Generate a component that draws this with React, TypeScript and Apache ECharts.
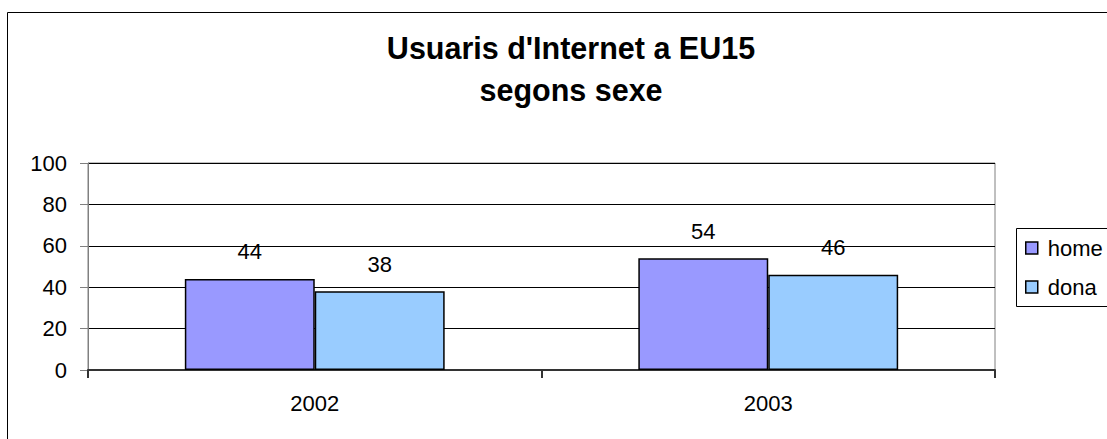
import React, { useEffect, useRef } from "react";
import * as echarts from "echarts";

const categories = ["2002", "2003"];
const homeValues = [44, 54];
const donaValues = [38, 46];
const seriesNames = ["home", "dona"];
const yTicks = { min: 0, max: 100, interval: 20 };

const FONT = "'Liberation Sans', Arial, sans-serif";

export default function App() {
  const ref = useRef<HTMLDivElement>(null);
  useEffect(() => {
    if (!ref.current) return;
    const chart = echarts.init(ref.current, undefined, { renderer: "svg" });
    const labelCfg = {
      show: true,
      position: "top",
      distance: 16,
      color: "#000",
      fontSize: 22,
      fontFamily: FONT,
    };
    chart.setOption({
      animation: false,
      backgroundColor: "#fff",
      textStyle: { fontFamily: FONT },
      graphic: [
        {
          type: "rect",
          shape: { x: 7.5, y: 12.5, width: 1200, height: 600 },
          style: { fill: "none", stroke: "#000", lineWidth: 1 },
          silent: true,
          z: -1,
        },
        {
          type: "polyline",
          shape: {
            points: [
              [1120, 228.5],
              [1016.5, 228.5],
              [1016.5, 306.5],
              [1120, 306.5],
            ],
          },
          style: { fill: "none", stroke: "#000", lineWidth: 1 },
          silent: true,
          z: 0,
        },
      ],
      title: {
        text: "Usuaris d'Internet a EU15\nsegons sexe",
        left: 571,
        top: 27,
        padding: 0,
        textAlign: "center",
        textStyle: {
          fontFamily: FONT,
          fontWeight: "bold",
          fontSize: 30.5,
          lineHeight: 42,
          color: "#000",
        },
      },
      legend: {
        orient: "vertical",
        left: 1016,
        top: 228,
        padding: [9, 0, 8, 9],
        itemGap: 17,
        itemWidth: 12,
        itemHeight: 12,
        icon: "rect",
        borderWidth: 0,
        z: 5,
        itemStyle: { borderColor: "#000", borderWidth: 1.5 },
        textStyle: {
          fontFamily: FONT,
          fontSize: 22,
          color: "#000",
          padding: [0, 0, 0, 5],
        },
        data: seriesNames,
      },
      grid: {
        left: 88,
        top: 163,
        right: 112,
        bottom: 69,
        show: true,
        borderColor: "#808080",
        borderWidth: 1,
        backgroundColor: "transparent",
      },
      xAxis: {
        type: "category",
        data: categories,
        axisLine: { show: true, lineStyle: { color: "#333", width: 2 } },
        axisTick: { show: true, length: 8, lineStyle: { color: "#333", width: 2 } },
        axisLabel: { margin: 22, fontSize: 22, color: "#000", fontFamily: FONT },
      },
      yAxis: {
        type: "value",
        min: yTicks.min,
        max: yTicks.max,
        interval: yTicks.interval,
        axisLine: { show: true, lineStyle: { color: "#808080", width: 1 } },
        axisTick: { show: true, length: 8, lineStyle: { color: "#808080" } },
        axisLabel: { margin: 21, fontSize: 22, color: "#000", fontFamily: FONT },
        splitLine: { show: true, lineStyle: { color: "#000", width: 1 } },
      },
      series: [
        {
          name: seriesNames[0],
          type: "bar",
          data: homeValues,
          barGap: "0%",
          barCategoryGap: "42.7%",
          itemStyle: { color: "#9999FF", borderColor: "#000", borderWidth: 1.5 },
          label: labelCfg,
        },
        {
          name: seriesNames[1],
          type: "bar",
          data: donaValues,
          barGap: "0%",
          barCategoryGap: "42.7%",
          itemStyle: { color: "#99CCFF", borderColor: "#000", borderWidth: 1.5 },
          label: labelCfg,
        },
      ],
    });
    return () => chart.dispose();
  }, []);
  return (
    <div
      ref={ref}
      style={{ position: "fixed", left: 0, top: 0, width: 1107, height: 439 }}
    />
  );
}
